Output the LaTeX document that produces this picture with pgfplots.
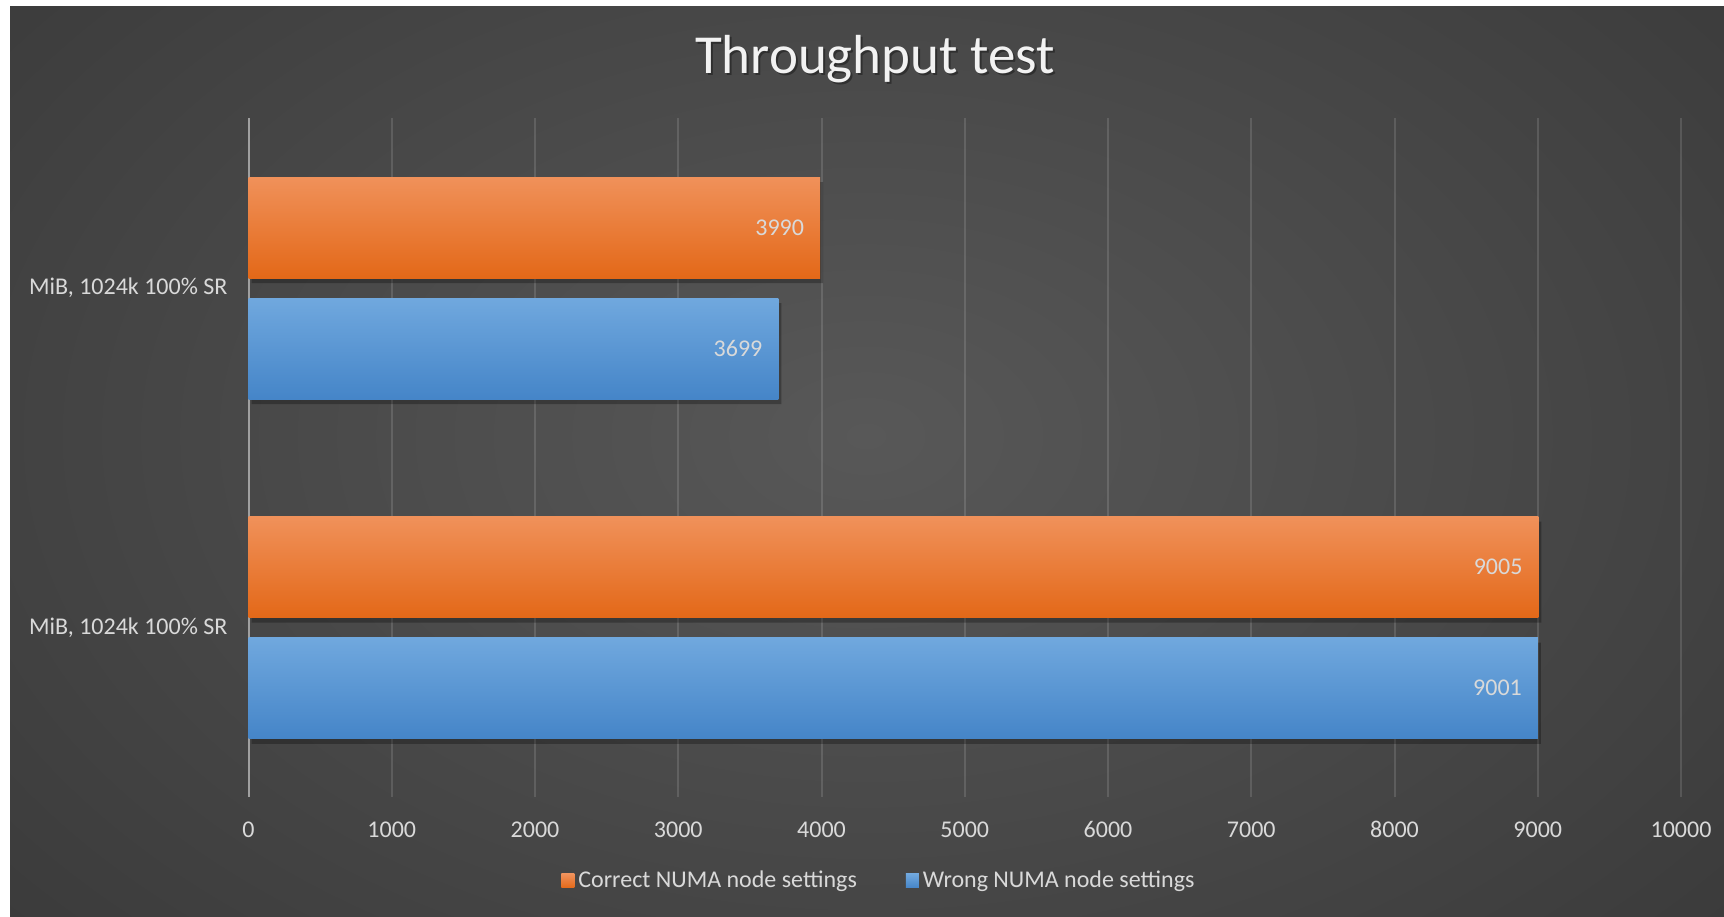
\documentclass[border=0pt]{standalone}
\usepackage{pgfplots}
\pgfplotsset{compat=1.18}
\usepackage{fontspec}
\setmainfont{Carlito}
\definecolor{bgin}{HTML}{585858}
\definecolor{bgout}{HTML}{262626}
\definecolor{otop}{HTML}{F0915A}
\definecolor{omid}{HTML}{F47B2A}
\definecolor{obot}{HTML}{E36818}
\definecolor{btop}{HTML}{70A8DE}
\definecolor{bmid}{HTML}{5499DB}
\definecolor{bbot}{HTML}{4585C8}
\definecolor{txt}{HTML}{D9D9D9}
\definecolor{axl}{HTML}{A0A0A0}
\pgfplotsset{
  obar/.style={draw=none, top color=otop, middle color=omid, bottom color=obot, bar shift=30pt,
    nodes near coords, point meta=explicit symbolic},
  bbar/.style={draw=none, top color=btop, middle color=bmid, bottom color=bbot, bar shift=-30.5pt,
    nodes near coords, point meta=explicit symbolic},
  shad/.style={forget plot, draw=none, fill=black, fill opacity=0.28, xshift=1.5pt, yshift=-2.5pt},
}
\begin{document}
\begin{tikzpicture}[x=1pt,y=1pt]
\fill[white] (0,0) rectangle (862,458);
\begin{scope}
\clip (5,0) rectangle (862,454.5);
\shade[inner color=bgin, outer color=bgout] (433,240) ellipse (980 and 640);
\end{scope}
\node[anchor=base, text=black, opacity=0.35, font=\fontsize{27.5}{32}\selectfont] at (438.5,420.3) {Throughput test};
\node[anchor=base, text=white!95!black, font=\fontsize{27.5}{32}\selectfont] at (437.5,421.3) {Throughput test};
\begin{axis}[
  at={(124.25pt,59.5pt)}, anchor=south west,
  scale only axis, width=716.25pt, height=339.5pt,
  xbar, xmin=0, xmax=10000, ymin=-0.5, ymax=1.5,
  bar width=50.5pt,
  ytick={0,1}, yticklabels={{MiB, 1024k 100\% SR},{MiB, 1024k 100\% SR}},
  xtick={0,1000,...,10000},
  scaled x ticks=false,
  xticklabel={\pgfmathprintnumber[fixed,1000 sep={}]{\tick}},
  /pgf/number format/assume math mode=true,
  axis lines*=left,
  x axis line style={draw=none},
  y axis line style={draw=axl, line width=1pt},
  major tick length=0pt,
  xmajorgrids,
  major grid style={draw=white, draw opacity=0.13, line width=1pt},
  tick label style={text=txt, font=\fontsize{12}{14}\selectfont},
  xticklabel style={anchor=base, yshift=-20pt},
  yticklabel style={anchor=east, xshift=-7pt},
  every node near coord/.append style={anchor=east, xshift=-4.5pt, text=txt, font=\fontsize{12}{14}\selectfont},
  legend columns=2,
  legend style={at={(0.4408,-0.1237)}, anchor=center, draw=none, fill=none, text=txt, font=\fontsize{12}{14}\selectfont,
    /tikz/every even column/.append style={column sep=22.5pt}},
  legend image code/.code={\path[#1, draw=none] (0pt,-3.5pt) rectangle (6.5pt,3.5pt);},
]
% drop shadows
\addplot[shad, bar shift=30pt] coordinates {(9005,0) (3990,1)};
\addplot[shad, bar shift=-30.5pt] coordinates {(9001,0) (3699,1)};
% bars
\addplot[obar] coordinates {(9005,0) [9005]};
\addlegendentry{Correct NUMA node settings}
\addplot[bbar] coordinates {(9001,0) [9001]};
\addlegendentry{Wrong NUMA node settings}
\addplot[obar, forget plot] coordinates {(3990,1) [3990]};
\addplot[bbar, forget plot] coordinates {(3699,1) [3699]};
\end{axis}
\end{tikzpicture}
\end{document}
